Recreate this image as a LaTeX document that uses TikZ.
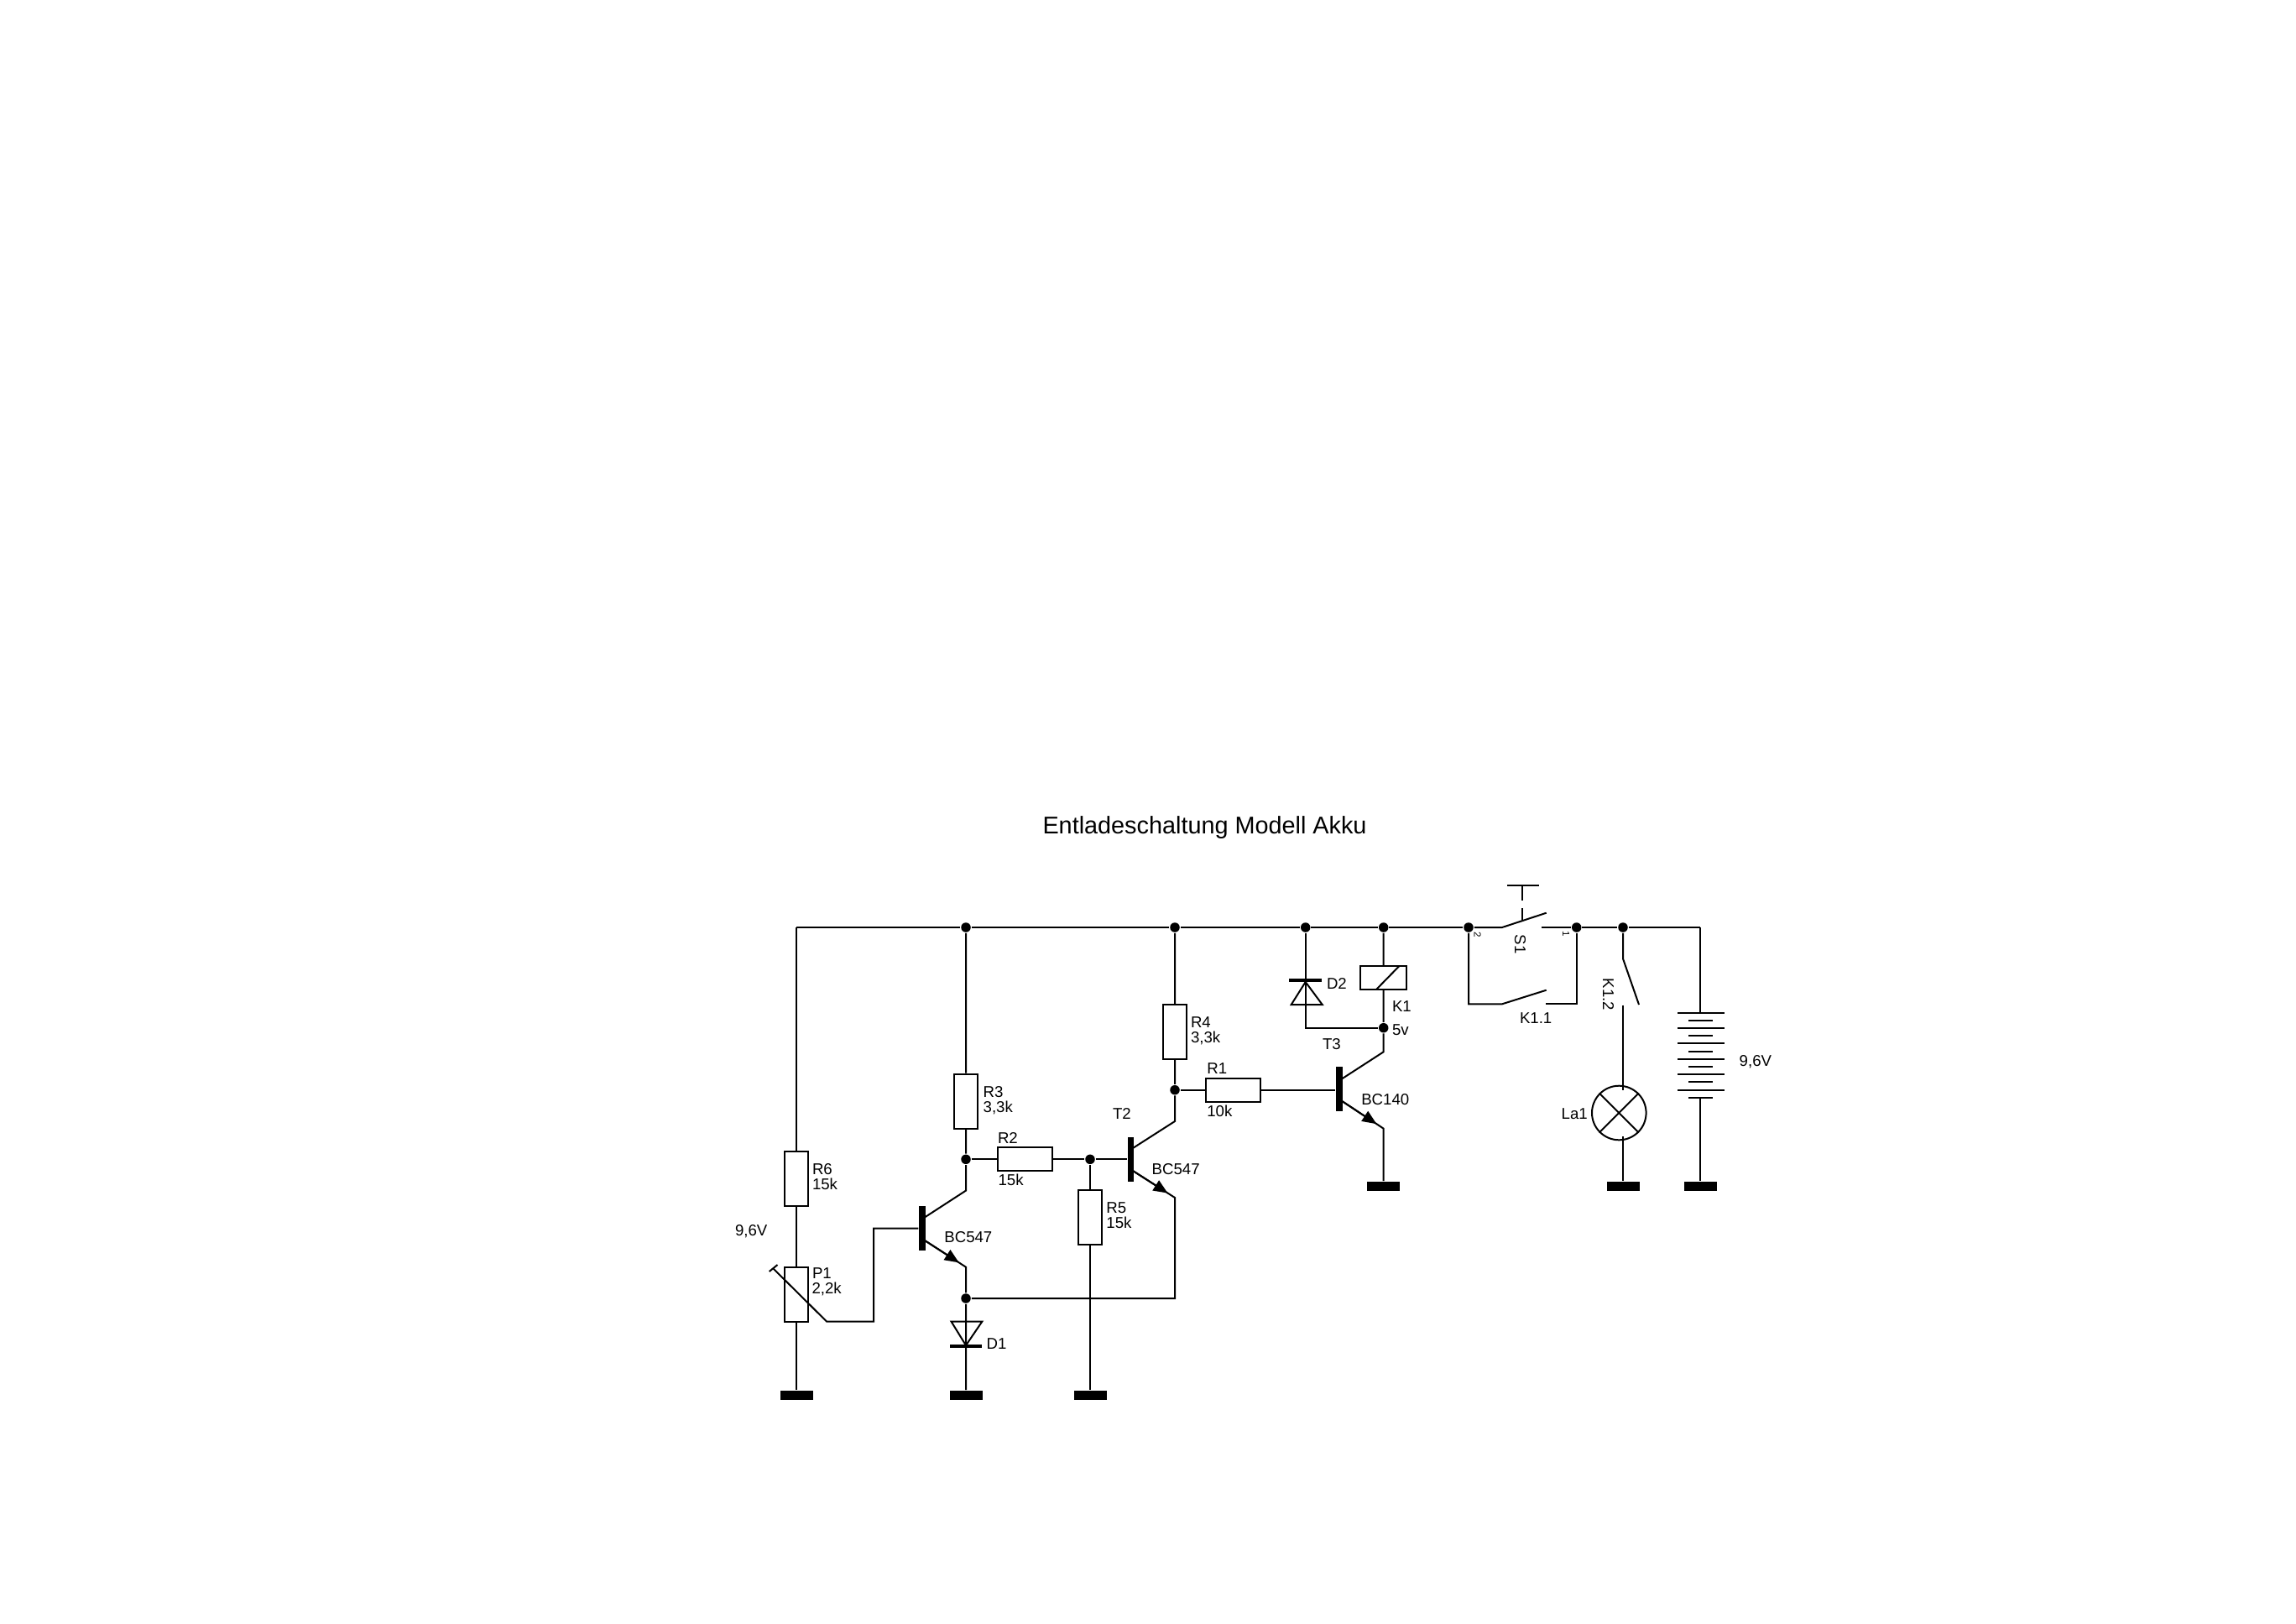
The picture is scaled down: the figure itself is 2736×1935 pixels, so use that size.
\documentclass[tikz,border=0pt]{standalone}
\usepackage{fontspec}
\setmainfont{Liberation Sans}
\usetikzlibrary{positioning,calc,arrows.meta}
\tikzset{
  wr/.style={line width=0.2mm},
  rs/.style={rectangle, minimum width=2.8mm, minimum height=6.5mm, inner sep=0, draw=black, line width=0.2mm},
  rh/.style={rectangle, minimum width=6.5mm, minimum height=2.8mm, inner sep=0, draw=black, line width=0.2mm},
  jn/.style={circle, minimum size=1.15mm, inner sep=0, fill=black},
  gn/.style={rectangle, minimum width=3.9mm, minimum height=1.1mm, inner sep=0, fill=black},
  tb/.style={rectangle, minimum width=0.74mm, minimum height=5.3mm, inner sep=0, fill=black},
  db/.style={rectangle, minimum width=3.85mm, minimum height=0.4mm, inner sep=0, fill=black},
  lb/.style={anchor=west, inner sep=0, text height=1.3mm, text depth=0pt, font=\fontsize{5.3}{6}\selectfont},
  sm/.style={inner sep=0, rotate=-90, font=\fontsize{3.3}{4}\selectfont},
  ar/.style={line width=0.2mm, -{Triangle[length=1.7mm,width=1.4mm]}}
}
\begin{document}
\begin{tikzpicture}[x=0.1mm,y=-0.1mm,wr]
	\useasboundingbox (0,0) rectangle (2736,1935);
	\node[anchor=west, inner sep=0, text height=2mm, text depth=0pt, font=\fontsize{8.2}{9}\selectfont] (title) at (1241.5,983) {Entladeschaltung Modell Akku};
	% rail
	\coordinate (rl) at (949,1105);
	\node[jn] (j1) at (1151,1105) {};
	\node[jn] (j2) at (1400,1105) {};
	\node[jn] (j3) at (1555.7,1105) {};
	\node[jn] (j4) at (1648.7,1105) {};
	\node[jn] (j5) at (1750,1105) {};
	\node[jn] (j6) at (1878.7,1105) {};
	\node[jn] (j7) at (1934,1105) {};
	\coordinate (rr) at (2026,1105);
	\draw (rl) -- (j1) -- (j2) -- (j3) -- (j4) -- (j5);
	% left branch
	\node[rs] (r6) at (949,1404.2) {};
	\node[rs] (p1) at (949,1542) {};
	\node[gn] (g1) at (949,1662.5) {};
	\draw (rl) -- (r6) -- (p1) -- (g1);
	\coordinate (pt) at (916.7,1515);
	\coordinate (pu) at (926.5,1507);
	\coordinate (pw) at (921,1511);
	\coordinate (pe) at (985,1574.5);
	\draw (pt) -- (pu);
	\node[tb] (t1) at (1099,1463.5) {};
	\draw (pw) -- (pe) -- (1041,1574.5) |- (t1.west);
	% T1
	\coordinate (t1b) at (1102.6,1450);
	\coordinate (t1c) at (1151,1418.6);
	\coordinate (t1a) at (1102.6,1478.4);
	\coordinate (t1e) at (1151,1509.7);
	\node[rs] (r3) at (1151,1312) {};
	\node[jn] (j8) at (1151,1381.3) {};
	\node[jn] (j9) at (1151,1547) {};
	\node[db] (d1b) at (1151,1603.7) {};
	\node[gn] (g2) at (1151,1662.5) {};
	\draw (j1) -- (r3) -- (j8) -- (t1c) -- (t1b);
	\draw (t1a) -- (t1e) -- (j9) -- (g2);
	\draw[ar] (t1a) -- ($(t1a)!0.83!(t1e)$);
	\draw (1133.5,1574.5) -- (1170.4,1574.5) -- (1151,1603) -- cycle;
	% R2, R5, T2
	\node[rh] (r2) at (1221,1381.3) {};
	\node[jn] (j10) at (1299,1381.3) {};
	\node[rs] (r5) at (1299,1450.5) {};
	\node[gn] (g3) at (1299,1662.5) {};
	\node[tb] (t2) at (1347.7,1381.3) {};
	\draw (j8) -- (r2) -- (j10) -- (t2.west);
	\draw (j10) -- (r5) -- (g3);
	\coordinate (t2b) at (1350,1368);
	\coordinate (t2c) at (1400,1336);
	\coordinate (t2a) at (1350,1395);
	\coordinate (t2e) at (1400,1427);
	\node[rs] (r4) at (1400,1229.3) {};
	\node[jn] (j11) at (1400,1298.7) {};
	\draw (j2) -- (r4) -- (j11) -- (t2c) -- (t2b);
	\draw (t2a) -- (t2e) -- (1400,1547) -- (j9);
	\draw[ar] (t2a) -- ($(t2a)!0.83!(t2e)$);
	% R1, T3
	\node[rh] (r1) at (1469,1298.7) {};
	\node[tb] (t3) at (1596,1297) {};
	\draw (j11) -- (r1) -- (t3.west |- r1);
	\coordinate (t3b) at (1599.7,1285);
	\coordinate (t3c) at (1648.7,1253.3);
	\coordinate (t3a) at (1599.7,1312.3);
	\coordinate (t3e) at (1648.7,1344.7);
	\node[gn] (g4) at (1648.7,1413.5) {};
	\node[rh, minimum width=5.55mm] (k1) at (1648.7,1165) {};
	\node[jn] (j12) at (1648.7,1224.7) {};
	\draw (j4) -- (k1) -- (j12) -- (t3c) -- (t3b);
	\draw (t3a) -- (t3e) -- (g4);
	\draw[ar] (t3a) -- ($(t3a)!0.83!(t3e)$);
	\draw (1640,1179) -- (1667.7,1150.7);
	% D2
	\node[db] (d2b) at (1555.7,1168) {};
	\draw (j3) -- (1555.7,1224.7) -- (j12);
	\draw (1538.7,1197) -- (1575.7,1197) -- (1555.7,1170) -- cycle;
	% S1 and K1.1
	\coordinate (s1a) at (1790,1105);
	\coordinate (s1b) at (1842.7,1087.7);
	\coordinate (s1c) at (1836.7,1105);
	\draw (j5) -- (s1a) -- (s1b);
	\draw (s1c) -- (j6) -- (j7) -- (rr);
	\draw (1796.3,1054.7) -- (1834,1054.7);
	\draw (1813.7,1054.7) -- (1813.7,1073.3);
	\draw (1813.7,1082.3) -- (1813.7,1095.7);
	\coordinate (k1a) at (1790,1196.3);
	\coordinate (k1b) at (1842.7,1179.7);
	\coordinate (k1c) at (1842,1196.3);
	\draw (j5) |- (k1a) -- (k1b);
	\draw (k1c) -| (j6);
	% K1.2 and lamp
	\coordinate (k2a) at (1934,1142.3);
	\coordinate (k2b) at (1953,1197);
	\coordinate (k2c) at (1934,1197.7);
	\draw (j7) -- (k2a) -- (k2b);
	\node[circle, minimum size=6.46mm, inner sep=0, draw=black, line width=0.2mm] (la) at (1929.3,1326) {};
	\node[gn] (g5) at (1934,1413.5) {};
	\draw (k2c) -- (1934,1299);
	\draw (1934,1354.3) -- (g5);
	\draw (la.135) -- (la.-45);
	\draw (la.45) -- (la.-135);
	% battery
	\node[gn] (g6) at (2026,1413.5) {};
	\draw (rr) -- (2026,1206.7);
	\draw (2026,1307.7) -- (g6);
	\foreach \y in {1206.7,1224.7,1242.7,1261.7,1279.7,1298.7}
		\draw (1999,\y) -- (2055,\y);
	\foreach \y in {1215.7,1233.7,1252.7,1270.7,1288.7,1307.7}
		\draw (2012,\y) -- (2041,\y);
	% labels
	\node[lb] (l1) at (875,1466) {9,6V};
	\node[lb] (l2) at (967,1392.8) {R6};
	\node[lb] (l3) at (967,1411.2) {15k};
	\node[lb] (l4) at (967,1517) {P1};
	\node[lb] (l5) at (966.5,1534.6) {2,2k};
	\node[lb] (l6) at (1170.7,1300.7) {R3};
	\node[lb] (l7) at (1170.7,1318.6) {3,3k};
	\node[lb] (l8) at (1188,1356) {R2};
	\node[lb] (l9) at (1188.6,1405.7) {15k};
	\node[lb] (l10) at (1317.4,1439) {R5};
	\node[lb] (l11) at (1317.4,1456.5) {15k};
	\node[lb] (l12) at (1124.4,1473.9) {BC547};
	\node[lb] (l13) at (1174.6,1600.7) {D1};
	\node[lb] (l14) at (1325,1327) {T2};
	\node[lb] (l15) at (1371.7,1392.7) {BC547};
	\node[lb] (l16) at (1418,1217.7) {R4};
	\node[lb] (l17) at (1418,1236) {3,3k};
	\node[lb] (l18) at (1437.3,1272.7) {R1};
	\node[lb] (l19) at (1437.3,1324) {10k};
	\node[lb] (l20) at (1575,1244.3) {T3};
	\node[lb] (l21) at (1621.3,1310) {BC140};
	\node[lb] (l22) at (1580,1171.7) {D2};
	\node[lb] (l23) at (1658,1199.3) {K1};
	\node[lb] (l24) at (1658,1227.3) {5v};
	\node[lb] (l25) at (1810,1212.7) {K1.1};
	\node[lb] (l26) at (1859.7,1327.3) {La1};
	\node[lb] (l27) at (2071.7,1264) {9,6V};
	\node[lb, anchor=center, rotate=-90] (l28) at (1811.7,1125) {S1};
	\node[lb, anchor=center, rotate=-90] (l29) at (1916.7,1185) {K1.2};
	\node[sm] (l30) at (1760.7,1113.7) {2};
	\node[sm] (l31) at (1866,1112.7) {1};
\end{tikzpicture}
\end{document}
